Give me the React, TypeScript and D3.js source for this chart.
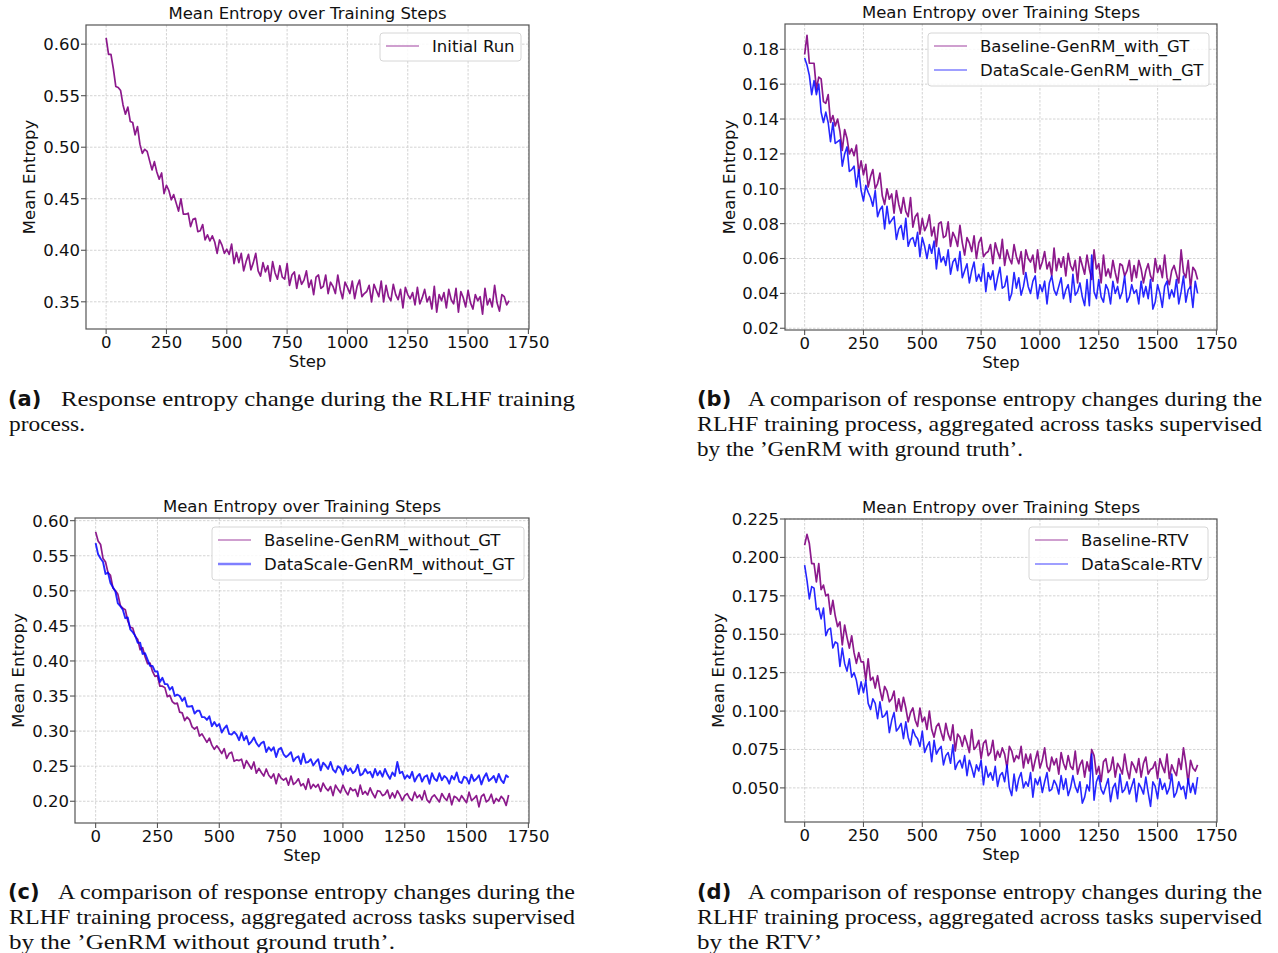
import * as d3 from 'd3'

// entropy logged every 10 steps, values stored in units of 1e-3
const STEP_INTERVAL = 10

const initialRun = [
  606, 590, 590, 576, 559, 558, 555, 541, 532, 539,
  525, 524, 512, 520, 503, 494, 498, 496, 487, 478,
  486, 476, 469, 475, 455, 463, 458, 449, 454, 446,
  438, 450, 435, 435, 436, 423, 430, 431, 418, 419,
  425, 410, 415, 409, 414, 408, 397, 410, 405, 397,
  401, 396, 406, 387, 398, 388, 397, 380, 389, 396,
  381, 388, 397, 380, 375, 388, 379, 385, 370, 389,
  378, 372, 385, 374, 372, 387, 366, 376, 379, 363,
  376, 367, 371, 380, 364, 371, 357, 374, 376, 363,
  365, 376, 358, 369, 365, 358, 376, 362, 353, 369,
  364, 358, 370, 353, 365, 371, 355, 358, 360, 366,
  350, 367, 361, 355, 370, 350, 366, 355, 351, 367,
  357, 352, 362, 344, 364, 357, 353, 359, 347, 364,
  348, 354, 362, 350, 355, 343, 365, 340, 357, 351,
  359, 344, 362, 352, 348, 363, 340, 360, 354, 345,
  361, 349, 343, 357, 351, 355, 338, 363, 347, 353,
  345, 366, 349, 341, 357, 355, 347, 351,
]

const baselineWithGT = [
  177, 188, 172, 172, 172, 157, 164, 163, 150, 149,
  154, 138, 142, 136, 140, 133, 122, 134, 129, 120,
  123, 119, 125, 109, 116, 108, 114, 101, 107, 111,
  100, 103, 109, 96, 91, 100, 94, 97, 86, 99,
  91, 86, 95, 87, 84, 95, 78, 84, 86, 74,
  83, 76, 79, 85, 73, 78, 67, 80, 81, 72,
  73, 81, 67, 75, 72, 67, 79, 69, 62, 72,
  69, 64, 73, 60, 69, 72, 61, 63, 64, 68,
  57, 69, 64, 60, 71, 56, 65, 60, 57, 68,
  61, 57, 64, 51, 65, 60, 58, 62, 52, 65,
  54, 58, 64, 54, 58, 50, 66, 53, 60, 55,
  61, 50, 63, 56, 53, 59, 46, 61, 56, 51,
  62, 54, 48, 65, 54, 57, 46, 62, 50, 54,
  49, 59, 52, 46, 57, 56, 50, 53, 59, 47,
  56, 49, 59, 54, 46, 53, 57, 50, 47, 60,
  52, 56, 49, 62, 49, 45, 53, 56, 51, 46,
  65, 52, 49, 59, 43, 55, 53, 48,
]

const dataScaleWithGT = [
  175, 171, 165, 154, 162, 154, 160, 144, 138, 144,
  138, 127, 138, 126, 127, 128, 113, 120, 124, 110,
  111, 113, 101, 111, 99, 93, 102, 98, 95, 90,
  99, 84, 88, 90, 77, 90, 80, 82, 84, 71,
  77, 79, 71, 83, 67, 71, 72, 67, 75, 61,
  72, 67, 60, 68, 63, 70, 54, 66, 58, 61,
  56, 65, 51, 58, 60, 53, 64, 49, 53, 57,
  46, 53, 58, 47, 51, 47, 57, 41, 52, 48,
  53, 42, 49, 55, 43, 44, 50, 36, 40, 52,
  43, 49, 39, 44, 52, 44, 40, 47, 50, 37,
  45, 41, 47, 34, 46, 50, 42, 39, 44, 49,
  37, 42, 45, 35, 51, 39, 41, 46, 38, 33,
  48, 33, 62, 41, 37, 48, 38, 35, 45, 42,
  34, 47, 40, 44, 37, 41, 50, 35, 38, 45,
  40, 42, 34, 47, 38, 44, 37, 48, 31, 35,
  45, 40, 32, 44, 47, 37, 42, 38, 48, 34,
  41, 50, 35, 42, 44, 32, 47, 40,
]

const baselineWithoutGT = [
  584, 571, 566, 546, 541, 526, 522, 504, 500, 495,
  479, 475, 473, 457, 448, 447, 435, 431, 416, 419,
  406, 396, 397, 385, 378, 379, 364, 364, 362, 349,
  351, 342, 339, 340, 327, 326, 315, 320, 316, 306,
  303, 306, 293, 296, 290, 284, 290, 280, 274, 279,
  274, 268, 275, 261, 268, 270, 257, 259, 258, 260,
  247, 258, 252, 246, 256, 240, 247, 241, 236, 246,
  237, 233, 239, 225, 239, 233, 230, 233, 223, 236,
  224, 227, 232, 222, 225, 217, 232, 218, 224, 220,
  224, 214, 226, 219, 215, 221, 208, 223, 217, 212,
  223, 215, 209, 219, 215, 217, 207, 223, 210, 214,
  209, 219, 211, 205, 215, 214, 208, 210, 216, 204,
  212, 205, 215, 209, 201, 208, 211, 204, 201, 213,
  205, 209, 202, 215, 202, 198, 206, 209, 204, 199,
  211, 205, 201, 211, 195, 207, 205, 200, 208, 203,
  198, 213, 201, 204, 208, 192, 207, 210, 199, 202,
  210, 197, 204, 200, 207, 203, 194, 209,
]

const dataScaleWithoutGT = [
  568, 552, 546, 541, 524, 526, 511, 505, 499, 482,
  478, 473, 461, 462, 445, 441, 436, 426, 426, 410,
  411, 402, 393, 393, 385, 385, 370, 376, 367, 367,
  359, 363, 350, 352, 350, 343, 348, 335, 335, 336,
  325, 329, 329, 320, 320, 316, 321, 307, 313, 307,
  310, 298, 304, 308, 296, 295, 299, 295, 287, 298,
  287, 293, 281, 285, 291, 283, 278, 283, 285, 270,
  277, 272, 277, 263, 274, 276, 267, 263, 266, 270,
  257, 262, 264, 253, 268, 255, 256, 260, 251, 256,
  260, 244, 255, 251, 246, 256, 245, 241, 250, 247,
  238, 251, 243, 247, 240, 243, 252, 237, 239, 246,
  240, 242, 234, 246, 237, 243, 235, 246, 238, 232,
  241, 236, 256, 240, 242, 232, 237, 233, 242, 228,
  235, 239, 228, 235, 237, 225, 240, 232, 229, 240,
  230, 236, 233, 225, 236, 231, 241, 228, 226, 235,
  233, 225, 238, 229, 232, 237, 224, 234, 240, 229,
  232, 236, 227, 239, 230, 226, 237, 234,
]

const baselineRTV = [
  208, 215, 209, 196, 196, 184, 196, 179, 182, 175,
  176, 163, 172, 162, 155, 158, 143, 156, 148, 141,
  149, 138, 131, 138, 132, 132, 120, 134, 120, 122,
  115, 123, 114, 107, 116, 113, 106, 108, 113, 100,
  108, 100, 109, 102, 93, 99, 102, 94, 90, 102,
  93, 96, 88, 100, 88, 83, 90, 92, 86, 81,
  92, 85, 81, 91, 74, 85, 83, 77, 84, 79,
  73, 88, 75, 77, 81, 69, 79, 81, 71, 73,
  81, 68, 74, 70, 76, 72, 63, 77, 74, 67,
  71, 69, 77, 63, 72, 66, 72, 61, 68, 74,
  63, 68, 76, 64, 61, 70, 65, 69, 59, 73,
  66, 62, 71, 64, 62, 74, 59, 65, 68, 57,
  67, 61, 75, 71, 59, 64, 54, 67, 69, 60,
  62, 70, 57, 66, 63, 59, 72, 62, 56, 67,
  64, 60, 69, 57, 66, 70, 59, 62, 63, 67,
  56, 69, 64, 60, 72, 56, 65, 61, 58, 69,
  62, 76, 66, 53, 68, 63, 61, 65,
]

const dataScaleRTV = [
  195, 185, 173, 181, 180, 166, 167, 160, 167, 149,
  153, 154, 141, 145, 144, 129, 141, 131, 126, 134,
  122, 125, 120, 111, 119, 112, 120, 105, 101, 108,
  105, 95, 106, 96, 97, 100, 86, 94, 99, 87,
  89, 92, 82, 93, 83, 78, 88, 84, 82, 77,
  87, 73, 77, 80, 67, 81, 72, 75, 77, 65,
  71, 73, 66, 78, 62, 66, 68, 63, 71, 58,
  68, 63, 57, 65, 61, 68, 52, 64, 57, 60,
  55, 64, 51, 58, 60, 54, 65, 50, 45, 59,
  48, 56, 60, 50, 54, 51, 60, 44, 56, 52,
  57, 47, 54, 60, 48, 49, 55, 52, 46, 58,
  49, 56, 45, 50, 58, 51, 47, 54, 40, 44,
  52, 48, 72, 42, 54, 58, 49, 46, 51, 56,
  41, 50, 53, 43, 59, 47, 49, 54, 46, 51,
  56, 41, 53, 50, 46, 57, 47, 38, 54, 51,
  43, 56, 49, 53, 46, 50, 59, 44, 47, 54,
  49, 51, 43, 56, 47, 53, 46, 57,
]

const stepTicks = [0, 250, 500, 750, 1000, 1250, 1500, 1750]
const ticksA = [0.35, 0.4, 0.45, 0.5, 0.55, 0.6]
const ticksB = [0.02, 0.04, 0.06, 0.08, 0.1, 0.12, 0.14, 0.16, 0.18]
const ticksC = [0.2, 0.25, 0.3, 0.35, 0.4, 0.45, 0.5, 0.55, 0.6]
const ticksD = [0.05, 0.075, 0.1, 0.125, 0.15, 0.175, 0.2, 0.225]

const FONT = '"DejaVu Sans", sans-serif'
const SERIF = '"Liberation Serif", "Times New Roman", serif'
const PURPLE = '#800080'
const BLUE = '#0000ff'

interface Series {
  name: string
  values: number[]
  color: string
  width: number
  opacity: number
  legendWidth?: number
  legendOpacity?: number
}

interface Box { left: number; right: number; top: number; bottom: number }

interface PanelProps {
  box: Box
  yDomain: [number, number]
  yTicks: number[]
  yFormat: string
  yLabelX: number
  series: Series[]
  legend: { x: number; y: number; w: number; h: number }
}

const Panel = ({ box, yDomain, yTicks, yFormat, yLabelX, series, legend }: PanelProps) => {
  const x = d3.scaleLinear().domain([-83.45, 1752.45]).range([box.left, box.right])
  const y = d3.scaleLinear().domain(yDomain).range([box.bottom, box.top])
  const fmt = d3.format(yFormat)
  const line = d3.line<number>()
    .x((_, i) => x(i * STEP_INTERVAL))
    .y(v => y(v / 1000))
  const clipId = `clip-${box.left}-${box.top}`
  const cx = (box.left + box.right) / 2
  const cy = (box.top + box.bottom) / 2

  return (
    <g fontFamily={FONT}>
      <defs>
        <clipPath id={clipId}>
          <rect x={box.left} y={box.top} width={box.right - box.left} height={box.bottom - box.top} />
        </clipPath>
      </defs>

      {/* grid */}
      <g stroke="#bdbdbd" strokeWidth={0.8} strokeDasharray="2.5,1.5" opacity={0.8}>
        {stepTicks.map(t => (
          <line key={`gx${t}`} x1={x(t)} x2={x(t)} y1={box.top} y2={box.bottom} />
        ))}
        {yTicks.map(t => (
          <line key={`gy${t}`} x1={box.left} x2={box.right} y1={y(t)} y2={y(t)} />
        ))}
      </g>

      {/* series */}
      <g clipPath={`url(#${clipId})`} fill="none" strokeLinejoin="round">
        {series.map(s => (
          <path key={s.name} d={line(s.values) ?? ''} stroke={s.color}
            strokeWidth={s.width} strokeOpacity={s.opacity} />
        ))}
      </g>

      {/* spines */}
      <rect x={box.left} y={box.top} width={box.right - box.left} height={box.bottom - box.top}
        fill="none" stroke="#555" strokeWidth={1.2} />

      {/* x axis */}
      {stepTicks.map(t => (
        <g key={`xt${t}`}>
          <line x1={x(t)} x2={x(t)} y1={box.bottom} y2={box.bottom + 5} stroke="#555" strokeWidth={1.1} />
          <text x={x(t)} y={box.bottom + 19} textAnchor="middle" fontSize={16.5} fill="#111">{t}</text>
        </g>
      ))}
      <text x={cx} y={box.bottom + 38} textAnchor="middle" fontSize={16.5} fill="#111">Step</text>

      {/* y axis */}
      {yTicks.map(t => (
        <g key={`yt${t}`}>
          <line x1={box.left - 5} x2={box.left} y1={y(t)} y2={y(t)} stroke="#555" strokeWidth={1.1} />
          <text x={box.left - 6} y={y(t)} dy="0.36em" textAnchor="end" fontSize={16.5} fill="#111">{fmt(t)}</text>
        </g>
      ))}
      <text transform={`translate(${yLabelX},${cy}) rotate(-90)`} textAnchor="middle"
        fontSize={16.5} fill="#111">Mean Entropy</text>

      <text x={cx} y={box.top - 6} textAnchor="middle" fontSize={16.5} fill="#111">
        Mean Entropy over Training Steps
      </text>

      {/* legend */}
      <rect x={legend.x} y={legend.y} width={legend.w} height={legend.h} rx={3}
        fill="#fff" fillOpacity={0.85} stroke="#d6d6d6" strokeWidth={1} />
      {series.map((s, i) => {
        const ly = legend.y + 13 + i * 24
        return (
          <g key={`lg${s.name}`}>
            <line x1={legend.x + 6} x2={legend.x + 39} y1={ly} y2={ly} stroke={s.color}
              strokeWidth={s.legendWidth ?? 1.1} strokeOpacity={s.legendOpacity ?? 0.75} />
            <text x={legend.x + 52} y={ly} dy="0.36em" fontSize={16.5} fill="#111">{s.name}</text>
          </g>
        )
      })}
    </g>
  )
}

interface CaptionLine { x: number; y: number; text: string; width: number }

const Caption = ({ tag, tagX, tagY, lines }: { tag: string; tagX: number; tagY: number; lines: CaptionLine[] }) => (
  <g>
    <text x={tagX} y={tagY} fontFamily={FONT} fontWeight="bold" fontSize={21} fill="#111">{tag}</text>
    {lines.map(l => (
      <text key={l.text} x={l.x} y={l.y} fontFamily={SERIF} fontSize={21.5} fill="#111"
        textLength={l.width} lengthAdjust="spacingAndGlyphs">{l.text}</text>
    ))}
  </g>
)

export default function App() {
  return (
    <svg width={1278} height={953} viewBox="0 0 1278 953"
      style={{ position: 'absolute', left: 0, top: 0, background: '#fff' }}>
      <rect width={1278} height={953} fill="#fff" />

      <Panel
        box={{ left: 86, right: 529, top: 25, bottom: 329 }}
        yDomain={[0.3236, 0.6186]} yTicks={ticksA} yFormat=".2f" yLabelX={35}
        series={[{ name: 'Initial Run', values: initialRun, color: PURPLE, width: 1.7, opacity: 0.9 }]}
        legend={{ x: 380, y: 33, w: 141, h: 28 }}
      />
      <Panel
        box={{ left: 785, right: 1217, top: 24, bottom: 330 }}
        yDomain={[0.019, 0.1945]} yTicks={ticksB} yFormat=".2f" yLabelX={735}
        series={[
          { name: 'Baseline-GenRM_with_GT', values: baselineWithGT, color: PURPLE, width: 1.7, opacity: 0.9 },
          { name: 'DataScale-GenRM_with_GT', values: dataScaleWithGT, color: BLUE, width: 1.6, opacity: 0.85 },
        ]}
        legend={{ x: 928, y: 33, w: 281, h: 53 }}
      />
      <Panel
        box={{ left: 75, right: 529, top: 518, bottom: 823 }}
        yDomain={[0.169, 0.6038]} yTicks={ticksC} yFormat=".2f" yLabelX={24}
        series={[
          { name: 'Baseline-GenRM_without_GT', values: baselineWithoutGT, color: PURPLE, width: 1.7, opacity: 0.9 },
          { name: 'DataScale-GenRM_without_GT', values: dataScaleWithoutGT, color: BLUE, width: 1.9, opacity: 0.85,
            legendWidth: 2.6, legendOpacity: 0.5 },
        ]}
        legend={{ x: 212, y: 527, w: 312, h: 53 }}
      />
      <Panel
        box={{ left: 785, right: 1217, top: 519, bottom: 822 }}
        yDomain={[0.0278, 0.225]} yTicks={ticksD} yFormat=".3f" yLabelX={724}
        series={[
          { name: 'Baseline-RTV', values: baselineRTV, color: PURPLE, width: 1.7, opacity: 0.9 },
          { name: 'DataScale-RTV', values: dataScaleRTV, color: BLUE, width: 1.6, opacity: 0.85 },
        ]}
        legend={{ x: 1029, y: 527, w: 179, h: 53 }}
      />

      <Caption tag="(a)" tagX={8} tagY={406} lines={[
        { x: 61, y: 406, text: 'Response entropy change during the RLHF training', width: 514 },
        { x: 9, y: 431, text: 'process.', width: 76 },
      ]} />
      <Caption tag="(b)" tagX={697} tagY={406} lines={[
        { x: 748, y: 406, text: 'A comparison of response entropy changes during the', width: 514 },
        { x: 697, y: 431, text: 'RLHF training process, aggregated across tasks supervised', width: 565 },
        { x: 697, y: 456, text: 'by the \u2019GenRM with ground truth\u2019.', width: 326 },
      ]} />
      <Caption tag="(c)" tagX={8} tagY={899} lines={[
        { x: 58, y: 899, text: 'A comparison of response entropy changes during the', width: 517 },
        { x: 9, y: 924, text: 'RLHF training process, aggregated across tasks supervised', width: 566 },
        { x: 9, y: 949, text: 'by the \u2019GenRM without ground truth\u2019.', width: 386 },
      ]} />
      <Caption tag="(d)" tagX={697} tagY={899} lines={[
        { x: 748, y: 899, text: 'A comparison of response entropy changes during the', width: 514 },
        { x: 697, y: 924, text: 'RLHF training process, aggregated across tasks supervised', width: 565 },
        { x: 697, y: 949, text: 'by the RTV\u2019', width: 125 },
      ]} />
    </svg>
  )
}
